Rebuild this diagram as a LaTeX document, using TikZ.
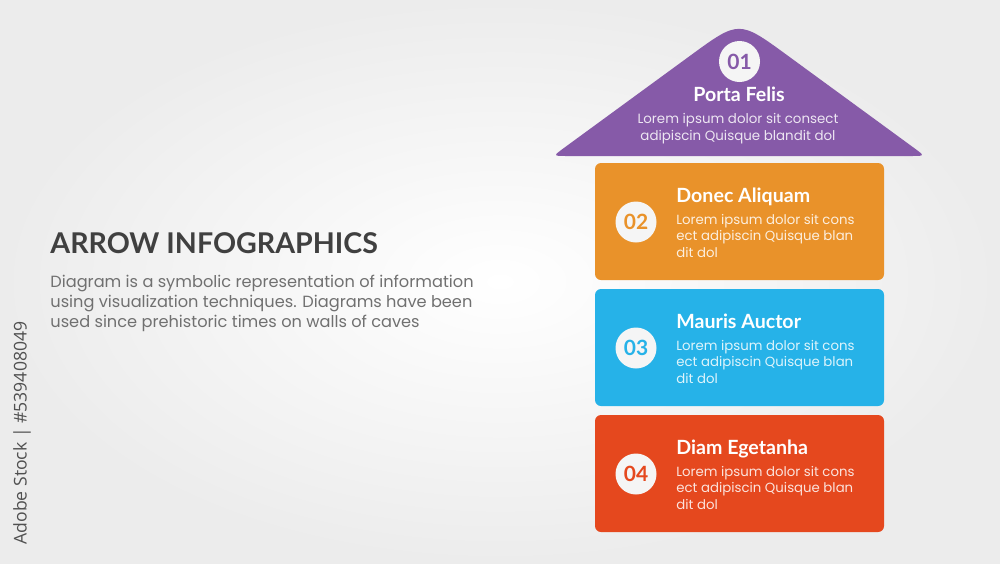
\documentclass[tikz,border=0pt]{standalone}
\usepackage{fontspec}
\newfontfamily\latofont{Lato}
\newfontfamily\popfont{Poppins}
\newfontfamily\stockfont{Open Sans}
\definecolor{bgedge}{RGB}{236,236,236}
\definecolor{titlegray}{RGB}{64,64,64}
\definecolor{textgray}{RGB}{112,112,112}
\definecolor{stockgray}{RGB}{80,80,80}
\definecolor{purple1}{RGB}{134,90,168}
\definecolor{orange1}{RGB}{233,146,42}
\definecolor{blue1}{RGB}{38,178,232}
\definecolor{red1}{RGB}{229,72,30}
\definecolor{discfill}{RGB}{245,245,245}

\tikzset{
  stepcard/.style={rounded corners=3pt, minimum width=144.5pt, minimum height=58.5pt, inner sep=0pt},
  numdisc/.style={circle, fill=discfill, minimum size=20.5pt, inner sep=0pt, font=\latofont\bfseries\fontsize{10.5pt}{12pt}\selectfont},
  cardtitle/.style={anchor=base west, inner sep=0pt, text=white, font=\latofont\bfseries\fontsize{9.8pt}{12pt}\selectfont},
  cardtext/.style={anchor=base west, inner sep=0pt, align=left, font=\popfont\fontsize{6.65pt}{8.2pt}\selectfont},
}

\begin{document}
\begin{tikzpicture}[x=0.5pt, y=-0.5pt]
  % Background
  \shade[inner color=white, outer color=bgedge] (0,0) rectangle (1000,563);
  \useasboundingbox (0,0) rectangle (1000,563);

  % Heading and description (base = last line)
  \node[anchor=base west, inner sep=0pt, text=titlegray, font=\latofont\bfseries\fontsize{14.3pt}{16pt}\selectfont] (heading) at (50,253) {ARROW INFOGRAPHICS};
  \node[anchor=base west, inner sep=0pt, align=left, text=textgray, font=\popfont\fontsize{8.1pt}{10pt}\selectfont] (summary) at (50,327) {
    Diagram is a symbolic representation of information\\
    using visualization techniques. Diagrams have been\\
    used since prehistoric times on walls of caves
  };

  % Stock id
  \node[rotate=90, inner sep=0pt, text=stockgray, font=\stockfont\fontsize{8.8pt}{10pt}\selectfont] (stockid) at (22,433) {Adobe Stock | \#539408049};

  % Step 1 (arrow head)
  \fill[purple1] (567,156) -- (911,156) .. controls (925,156) .. (913.7,147.7)
    -- (787.4,55.4) .. controls (739,20) .. (690.6,55.4)
    -- (564.3,147.7) .. controls (553,156) .. (567,156) -- cycle;
  \node[numdisc, text=purple1] (num1) at (739.5,61.5) {01};
  \node[anchor=base, inner sep=0pt, text=white, font=\latofont\bfseries\fontsize{9.8pt}{12pt}\selectfont] (title1) at (739,101.5) {Porta Felis};
  \node[anchor=base, inner sep=0pt, align=center, text=white!85!purple1, font=\popfont\fontsize{6.7pt}{8.2pt}\selectfont] (body1) at (738,140) {
    Lorem ipsum dolor sit consect\\
    adipiscin Quisque blandit dol
  };

  % Step 2
  \node[stepcard, fill=orange1] (card2) at (739.5,221.5) {};
  \node[numdisc, text=orange1] (num2) at (636,222) {02};
  \node[cardtitle] (title2) at (676,202) {Donec Aliquam};
  \node[cardtext, text=white!85!orange1] (body2) at (676,257) {Lorem ipsum dolor sit cons\\ect adipiscin Quisque blan\\dit dol};

  % Step 3
  \node[stepcard, fill=blue1] (card3) at (739.5,347.5) {};
  \node[numdisc, text=blue1] (num3) at (636,348) {03};
  \node[cardtitle] (title3) at (676,328) {Mauris Auctor};
  \node[cardtext, text=white!85!blue1] (body3) at (676,383) {Lorem ipsum dolor sit cons\\ect adipiscin Quisque blan\\dit dol};

  % Step 4
  \node[stepcard, fill=red1] (card4) at (739.5,473.5) {};
  \node[numdisc, text=red1] (num4) at (636,474) {04};
  \node[cardtitle] (title4) at (676,454) {Diam Egetanha};
  \node[cardtext, text=white!85!red1] (body4) at (676,509) {Lorem ipsum dolor sit cons\\ect adipiscin Quisque blan\\dit dol};
\end{tikzpicture}
\end{document}
